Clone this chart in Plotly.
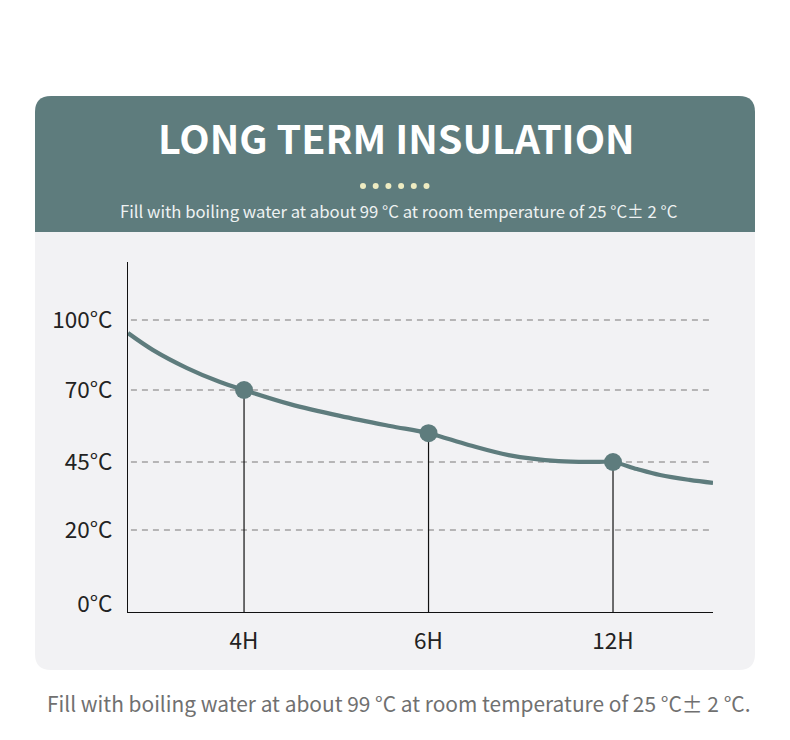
import numpy as np
import plotly.graph_objects as go

# ---------------- data ----------------
SLOT_LABELS = ["4H", "6H", "12H"]
SLOT_POS = [1, 2, 3]
POINT_TEMPS = [70, 55, 45]

# curve (x in slot units, temperature in °C)
CURVE_X = [0.371, 0.507, 0.691, 0.870, 1.0, 1.249, 1.520, 1.791, 2.0,
           2.217, 2.434, 2.705, 2.921, 3.0, 3.130, 3.255, 3.414, 3.542]
CURVE_T = [94.4, 87.1, 79.4, 73.4, 70.0, 65.1, 61.0, 57.5, 55.0,
           50.9, 47.4, 45.3, 45.05, 45.0, 42.4, 40.2, 38.4, 37.3]

TICK_TEMPS = [0, 20, 45, 70, 100]
TICK_LABELS = ["0°C", "20°C", "45°C", "70°C", "100°C"]

TITLE = "LONG TERM INSULATION"
SUBTITLE = "Fill with boiling water at about 99 °C at room temperature of 25 °C± 2 °C"
FOOTNOTE = "Fill with boiling water at about 99 °C at room temperature of 25 °C± 2 °C."

# ---------------- scale / layout constants ----------------
W, H = 790, 740
L, R, T, B = 128, 77, 262, 128
PLOT_W = W - L - R
PLOT_H = H - T - B
Y_RANGE = [0, 350]
TICK_AXIS_POS = [8, 82, 150, 222, 292]   # non-linear temperature axis
X_RANGE = [0.371, 3.542]

TEAL = "#5e7c7d"
FONT = "Noto Sans CJK SC"


def ymap(t):
    return np.interp(t, TICK_TEMPS, TICK_AXIS_POS)


def pxx(px):
    return (px - L) / PLOT_W


def pxy(py):
    return (H - B - py) / PLOT_H


def rounded_rect(x0, y0, x1, y1, r, top=True, bottom=True):
    X = lambda v: f"{pxx(v):.5f}"
    Y = lambda v: f"{pxy(v):.5f}"
    p = []
    if top:
        p.append(f"M {X(x0)},{Y(y0 + r)} Q {X(x0)},{Y(y0)} {X(x0 + r)},{Y(y0)}")
        p.append(f"L {X(x1 - r)},{Y(y0)} Q {X(x1)},{Y(y0)} {X(x1)},{Y(y0 + r)}")
    else:
        p.append(f"M {X(x0)},{Y(y0)} L {X(x1)},{Y(y0)}")
    if bottom:
        p.append(f"L {X(x1)},{Y(y1 - r)} Q {X(x1)},{Y(y1)} {X(x1 - r)},{Y(y1)}")
        p.append(f"L {X(x0 + r)},{Y(y1)} Q {X(x0)},{Y(y1)} {X(x0)},{Y(y1 - r)}")
    else:
        p.append(f"L {X(x1)},{Y(y1)} L {X(x0)},{Y(y1)}")
    p.append("Z")
    return " ".join(p)


fig = go.Figure()

# drop lines
for xs, t in zip(SLOT_POS, POINT_TEMPS):
    fig.add_trace(go.Scatter(x=[xs, xs], y=[Y_RANGE[0], ymap(t)], mode="lines",
                             line=dict(color="#111111", width=1.2),
                             hoverinfo="skip", showlegend=False))

# curve
fig.add_trace(go.Scatter(x=CURVE_X, y=ymap(CURVE_T), mode="lines",
                         line=dict(color=TEAL, width=4.2, shape="spline", smoothing=1.0),
                         hoverinfo="skip", showlegend=False, cliponaxis=True))

# points
fig.add_trace(go.Scatter(x=SLOT_POS, y=ymap(POINT_TEMPS), mode="markers",
                         marker=dict(color=TEAL, size=18),
                         hoverinfo="skip", showlegend=False))

shapes = []
# card background (marble)
shapes.append(dict(type="path", xref="paper", yref="paper", layer="below",
                   path=rounded_rect(35, 96, 755, 670, 16),
                   fillcolor="#f2f2f4", line=dict(width=0)))
# header
shapes.append(dict(type="path", xref="paper", yref="paper", layer="below",
                   path=rounded_rect(35, 96, 755, 232, 16, top=True, bottom=False),
                   fillcolor=TEAL, line=dict(width=0)))
# decorative dots
for i in range(6):
    cx = 363 + i * 12.7
    shapes.append(dict(type="circle", xref="paper", yref="paper", layer="above",
                       x0=pxx(cx - 3), x1=pxx(cx + 3), y0=pxy(186 + 3), y1=pxy(186 - 3),
                       fillcolor="#eeecc2", line=dict(width=0)))
# dashed gridlines (not at 0)
for t in TICK_TEMPS[1:]:
    shapes.append(dict(type="line", xref="paper", yref="y", layer="below",
                       x0=0.005, x1=1.0, y0=float(ymap(t)), y1=float(ymap(t)),
                       line=dict(color="#7a7878", width=1, dash="6px,5px")))

annotations = [
    dict(text=f"<b>{TITLE}</b>", x=pxx(396), y=pxy(137), xref="paper", yref="paper",
         showarrow=False, xanchor="center", yanchor="middle",
         font=dict(family=FONT, size=39.5, color="white")),
    dict(text=SUBTITLE, x=pxx(399), y=pxy(211), xref="paper", yref="paper",
         showarrow=False, xanchor="center", yanchor="middle",
         font=dict(family=FONT, size=16.7, color="#eef2f2")),
    dict(text=FOOTNOTE, x=pxx(399), y=pxy(703), xref="paper", yref="paper",
         showarrow=False, xanchor="center", yanchor="middle",
         font=dict(family=FONT, size=20.9, color="#707070")),
]

fig.update_layout(
    width=W, height=H,
    margin=dict(l=L, r=R, t=T, b=B, pad=0),
    paper_bgcolor="white", plot_bgcolor="rgba(0,0,0,0)",
    shapes=shapes, annotations=annotations,
    xaxis=dict(range=X_RANGE, tickvals=SLOT_POS, ticktext=SLOT_LABELS,
               showgrid=False, zeroline=False, showline=True, linecolor="#111111",
               linewidth=1.2, ticks="", ticklabelstandoff=9,
               tickfont=dict(family=FONT, size=22.5, color="#222222")),
    yaxis=dict(range=Y_RANGE, tickvals=[float(v) for v in ymap(TICK_TEMPS)],
               ticktext=TICK_LABELS,
               showgrid=False, zeroline=False, showline=True, linecolor="#111111",
               linewidth=1.2, ticks="", ticklabelstandoff=10,
               tickfont=dict(family=FONT, size=22.5, color="#222222")),
)

fig.write_html("out.html")
